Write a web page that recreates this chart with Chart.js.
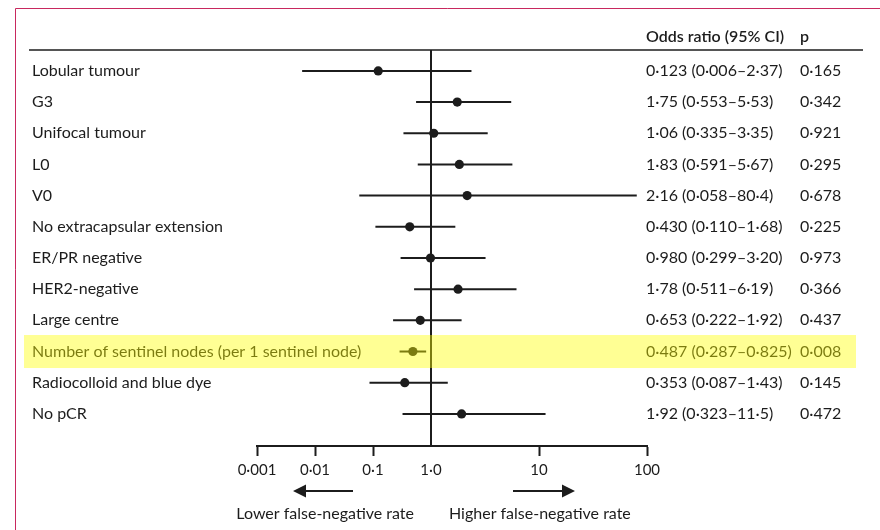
<!DOCTYPE html>
<html>
<head>
<meta charset="utf-8">
<script src="https://cdn.jsdelivr.net/npm/chart.js@4.4.1/dist/chart.umd.min.js"></script>
<style>
  html, body { margin: 0; padding: 0; background: #fff; }
  #wrap { width: 880px; height: 530px; position: relative; }
</style>
</head>
<body>
<div id="wrap"><canvas id="forest"></canvas></div>
<script>
const factors = [
    'Lobular tumour', 'G3', 'Unifocal tumour', 'L0', 'V0',
    'No extracapsular extension', 'ER/PR negative', 'HER2-negative',
    'Large centre', 'Number of sentinel nodes (per 1 sentinel node)',
    'Radiocolloid and blue dye', 'No pCR'
];
const oddsRatio = [0.123, 1.75, 1.06, 1.83, 2.16, 0.430, 0.980, 1.78, 0.653, 0.487, 0.353, 1.92];
const ciLow     = [0.006, 0.553, 0.335, 0.591, 0.058, 0.110, 0.299, 0.511, 0.222, 0.287, 0.087, 0.323];
const ciHigh    = [2.37, 5.53, 3.35, 5.67, 80.4, 1.68, 3.20, 6.19, 1.92, 0.825, 1.43, 11.5];
const orLabels = [
    '0·123 (0·006–2·37)', '1·75 (0·553–5·53)', '1·06 (0·335–3·35)', '1·83 (0·591–5·67)',
    '2·16 (0·058–80·4)', '0·430 (0·110–1·68)', '0·980 (0·299–3·20)', '1·78 (0·511–6·19)',
    '0·653 (0·222–1·92)', '0·487 (0·287–0·825)', '0·353 (0·087–1·43)', '1·92 (0·323–11·5)'
];
const pValues = ['0·165', '0·342', '0·921', '0·295', '0·678', '0·225', '0·973', '0·366', '0·437', '0·008', '0·145', '0·472'];
const tickValues = [0.001, 0.01, 0.1, 1, 10, 100];
const tickLabels = ['0·001', '0·01', '0·1', '1·0', '10', '100'];
const highlightRow = 9;

const ink = '#1c1c1c';
const FONT = 'Lato, "Open Sans", sans-serif';

// the printed figure squeezes decades below 1 compared with those above 1
const decadeLeft = 58, decadeRight = 108;
class SplitLogScale extends Chart.LinearScale {
    static id = 'splitlog';
    static defaults = {};
    buildTicks() {
        return tickValues.map(v => ({ value: v }));
    }
    _decimal(v) {
        const lo = Math.log10(this.min), hi = Math.log10(this.max);
        const wl = -lo * decadeLeft, wr = hi * decadeRight;
        const lg = Math.log10(v);
        return lg < 0 ? (lg - lo) * decadeLeft / (wl + wr) : (wl + lg * decadeRight) / (wl + wr);
    }
    getPixelForValue(v) {
        if (v == null || isNaN(v) || v <= 0) return NaN;
        return this.getPixelForDecimal(this._decimal(v));
    }
    getValueForPixel(px) {
        const d = this.getDecimalForPixel(px);
        const lo = Math.log10(this.min), hi = Math.log10(this.max);
        const wl = -lo * decadeLeft, wr = hi * decadeRight;
        const pos = d * (wl + wr);
        return pos < wl ? Math.pow(10, lo + pos / decadeLeft) : Math.pow(10, (pos - wl) / decadeRight);
    }
}
Chart.register(SplitLogScale);

const yMin = -0.67, yMax = 12.03;

const ciSets = factors.map((f, i) => ({
    data: [{ x: ciLow[i], y: i }, { x: ciHigh[i], y: i }],
    showLine: true,
    borderColor: ink,
    borderWidth: 2,
    pointRadius: 0,
    clip: false
}));

const refLine = {
    data: [{ x: 1, y: yMin }, { x: 1, y: yMax }],
    showLine: true,
    borderColor: ink,
    borderWidth: 2,
    pointRadius: 0,
    clip: false
};

const pointSet = {
    data: oddsRatio.map((v, i) => ({ x: v, y: i })),
    pointRadius: 4.6,
    pointBackgroundColor: ink,
    pointBorderWidth: 0,
    showLine: false,
    clip: false
};

const forestDecor = {
    id: 'forestDecor',
    beforeDraw(chart) {
        const c = chart.ctx;
        c.save();
        c.fillStyle = '#fff';
        c.fillRect(0, 0, chart.width, chart.height);
        // page frame
        c.strokeStyle = '#c8285e';
        c.lineWidth = 1;
        c.beginPath();
        c.moveTo(15.5, chart.height);
        c.lineTo(15.5, 8.5);
        c.lineTo(chart.width, 8.5);
        c.stroke();
        // header rule
        c.strokeStyle = ink;
        c.lineWidth = 1.6;
        c.beginPath();
        c.moveTo(29, chart.chartArea.top);
        c.lineTo(863, chart.chartArea.top);
        c.stroke();
        c.restore();
    },
    afterDraw(chart) {
        const c = chart.ctx;
        const x = chart.scales.x, y = chart.scales.y;
        c.save();
        c.fillStyle = ink;
        c.textBaseline = 'middle';
        c.textAlign = 'left';

        c.font = '600 16px ' + FONT;
        c.fillText('Odds ratio (95% CI)', 646, 37);
        c.fillText('p', 800, 37);

        c.font = '16px ' + FONT;
        factors.forEach((f, i) => {
            const py = y.getPixelForValue(i);
            c.fillText(f, 32, py);
            c.fillText(orLabels[i], 646, py);
            c.fillText(pValues[i], 800, py);
        });

        // direction arrows under the axis
        const one = x.getPixelForValue(1);
        const ay = 491;
        c.strokeStyle = ink;
        c.lineWidth = 2;
        c.beginPath();
        c.moveTo(one - 78, ay); c.lineTo(one - 126, ay);
        c.moveTo(one + 82, ay); c.lineTo(one + 132, ay);
        c.stroke();
        c.beginPath();
        c.moveTo(one - 138, ay); c.lineTo(one - 125, ay - 6.5); c.lineTo(one - 125, ay + 6.5); c.closePath();
        c.moveTo(one + 144, ay); c.lineTo(one + 131, ay - 6.5); c.lineTo(one + 131, ay + 6.5); c.closePath();
        c.fill();

        c.textAlign = 'right';
        c.fillText('Lower false-negative rate', one - 17, 514);
        c.textAlign = 'left';
        c.fillText('Higher false-negative rate', one + 18, 514);

        // highlighted row
        const hy = y.getPixelForValue(highlightRow);
        c.fillStyle = 'rgba(255, 255, 0, 0.42)';
        c.fillRect(24, hy - 16.5, 832, 33);
        c.restore();
    }
};

Chart.defaults.font.family = FONT;

new Chart(document.getElementById('forest'), {
    type: 'scatter',
    data: { datasets: [...ciSets, refLine, pointSet] },
    options: {
        responsive: true,
        maintainAspectRatio: false,
        animation: false,
        events: [],
        layout: { padding: { left: 257, right: 233, top: 50, bottom: 0 } },
        plugins: { legend: { display: false }, tooltip: { enabled: false } },
        scales: {
            x: {
                type: 'splitlog',
                min: 0.001,
                max: 100,
                position: 'bottom',
                afterFit: s => { s.height = 84; },
                border: { display: true, color: ink, width: 2 },
                grid: {
                    drawOnChartArea: false,
                    drawTicks: true,
                    tickLength: 10,
                    tickWidth: 2,
                    tickColor: ctx => (ctx.tick && ctx.tick.value === 1) ? 'rgba(0,0,0,0)' : ink
                },
                ticks: {
                    color: ink,
                    padding: 5,
                    font: { size: 15 },
                    autoSkip: false,
                    maxRotation: 0,
                    callback: (v, i) => tickLabels[i]
                }
            },
            y: {
                type: 'linear',
                display: false,
                reverse: true,
                min: yMin,
                max: yMax
            }
        }
    },
    plugins: [forestDecor]
});
</script>
</body>
</html>
